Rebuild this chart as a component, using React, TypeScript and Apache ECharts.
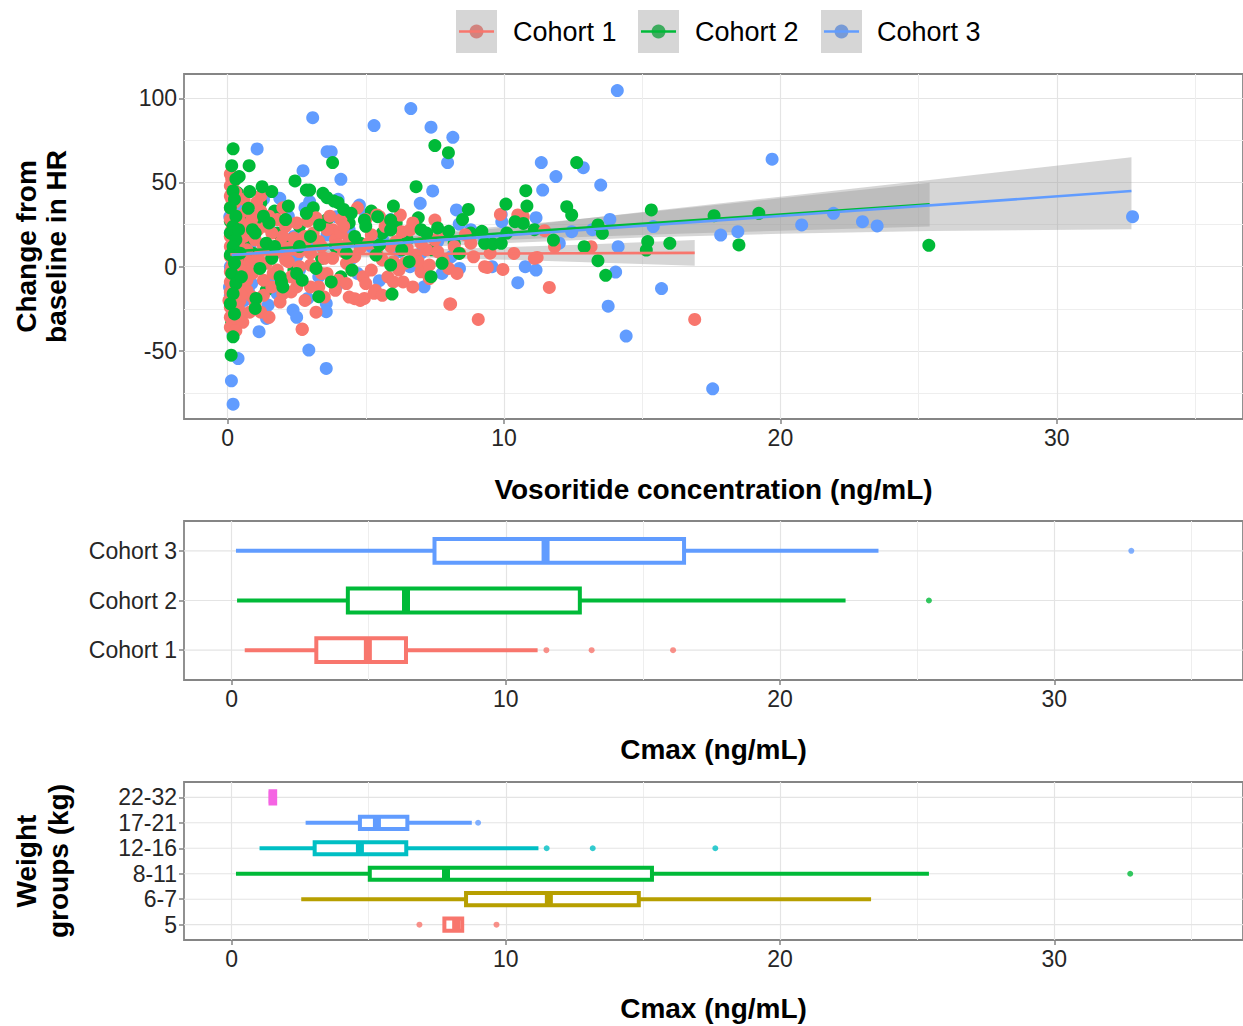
import React, { useEffect, useRef } from "react";
import * as echarts from "echarts";

// ---------- data ----------
const cohorts = ["Cohort 1", "Cohort 2", "Cohort 3"];
const cohortColors = ["#F8766D", "#00BA38", "#619CFF"];

// Change from baseline in HR vs vosoritide concentration: [conc, change]
const cohort1Points: number[][] = [
  [0.1, 55], [0.15, 52], [0.1, 48], [0.2, 45], [0.1, 42], [0.25, 38], [0.1, 35], [0.2, 31], [0.1, 28], [0.3, 25],
  [0.15, 22], [0.1, 18], [0.25, 15], [0.1, 12], [0.2, 9], [0.1, 6], [0.3, 3], [0.15, 0], [0.1, -3], [0.25, -6],
  [0.1, -9], [0.2, -12], [0.1, -15], [0.3, -18], [0.15, -21], [0.1, -24], [0.25, -27], [0.1, -30], [0.2, -33], [0.1, -36],
  [0.35, -31], [0.4, -25], [0.45, -20], [0.4, -10], [0.35, 5], [0.4, 14], [0.35, 20], [0.4, 30], [0.3, 44], [0.5, -29],
  [0.55, -33], [0.6, 18], [0.7, 10], [0.8, 3], [0.9, -4], [0.7, -14], [0.85, 26], [1.0, 16], [1.2, 42], [1.2, 33],
  [1.1, 22], [1.3, 12], [1.4, 2], [1.0, -22], [1.2, -27], [1.3, -8], [1.5, 30], [1.6, 20], [1.7, 8], [1.8, -2],
  [1.65, -4], [1.9, 14], [2.0, 35], [2.1, 24], [2.0, -16], [1.9, -21], [2.2, 3], [2.4, 17], [2.5, -12], [2.7, -37],
  [2.6, 9], [2.8, 18], [2.85, 16], [3.0, 1], [3.2, -27], [3.1, 20], [3.3, -12], [3.4, 12], [3.5, 5], [3.6, -4],
  [3.8, 22], [3.9, 16], [4.0, -8], [4.2, 9], [4.3, 2], [4.4, -18], [4.5, -2], [4.6, -19], [4.7, 35], [4.8, -20],
  [4.9, -6], [4.95, -18.8], [5.0, 28], [5.1, 14], [5.3, -15.8], [5.35, -14], [5.4, 30.7], [5.5, 29.7], [5.6, 4], [5.8, -6],
  [5.9, 12], [6.0, -9], [6.25, 30.7], [6.3, 20.8], [6.35, -9], [6.4, 2], [6.6, 21.8], [6.8, 7], [7.0, -3], [7.2, 10],
  [7.5, 27.7], [7.5, 16], [7.8, 4], [8.0, -1], [8.04, -22.2], [8.2, 12], [8.4, 8], [8.6, 19], [8.9, 5.9], [9.07, -31.3],
  [9.3, 0], [9.4, -0.4], [9.87, 31], [9.96, -1.6], [10.36, 7.9], [10.5, 30.7], [10.7, 29.7], [11.1, 5], [11.2, 5.5], [11.47, 21.4],
  [11.64, -12.3], [11.83, 11.9], [13.15, 11.9], [16.9, -31.3], [6.7, -12], [7.3, -7], [5.2, -2], [3.0, -12], [2.3, -15], [1.5, -30],
  [0.8, -27], [3.7, 30], [2.9, 27], [4.1, 20], [6.1, 15], [6.9, 3], [8.07, -22.2], [2.7, -37.2],
  [0.6, 40], [0.7, 33], [0.9, 29], [1.1, 6], [1.3, -17], [1.5, 10], [1.6, -12], [1.8, 28], [2.0, 18], [2.2, 11],
  [2.3, -6], [2.5, 26], [2.6, 0], [2.8, -20], [3.0, 8], [3.2, 29], [3.3, 15], [3.5, -18], [3.6, 22], [3.8, 5],
  [3.9, -14], [4.0, 13], [4.1, 28], [4.3, -10], [4.4, 16], [4.6, 6], [4.8, 11], [5.0, -10], [5.2, 19], [5.4, 8],
  [5.6, -17], [5.7, 24], [6.0, 3], [6.2, -2], [6.5, 11], [6.7, 26], [7.0, 14], [7.3, 1], [7.6, 9], [7.9, 20],
  [8.3, -4], [8.8, 14], [9.5, 8], [0.5, 10], [0.6, 0], [0.7, -8], [0.5, -17], [0.6, 25], [0.9, -18], [1.05, 38],
  [0.2, 50], [0.05, -20], [0.3, -38], [0.15, 40], [0.35, 12], [0.45, -2], [1.4, 24], [2.1, 4], [3.4, -4], [4.2, 24],
];

// Cohort 2: spread-out points, and the points packed inside the dense low-concentration cluster
const cohort2Points: number[][] = [
  [0.2, 70], [0.15, 60], [0.3, 52], [0.2, 45], [0.25, 40], [0.1, 35], [0.3, 30], [0.2, 24], [0.1, 20], [0.3, 16],
  [0.2, 12], [0.1, 7], [0.25, 2], [0.15, -4], [0.3, -10], [0.2, -16], [0.1, -22], [0.25, -28], [0.2, -41.6], [0.13, -52.5],
  [0.4, 22], [0.45, 8], [0.5, -6], [0.78, 60], [0.42, 53.5], [0.8, 44.6], [1.25, 47.5], [1.6, 44.6], [0.75, 34.7], [0.9, 22],
  [1.0, 20], [1.17, -1], [1.03, -18.8], [1.0, -24.8], [1.3, 30], [1.5, 26], [1.4, 14], [1.6, 5], [1.9, -6], [1.95, -9],
  [2.1, 28], [2.2, 36], [2.44, 50.9], [2.5, -4], [2.6, 12], [2.85, 45.5], [2.97, 45.5], [2.85, 31.7], [3.2, -1], [3.3, -17.8],
  [3.33, 24.8], [3.45, 43.6], [3.6, 41], [3.75, -9], [3.8, 61.8], [3.85, 39], [4.0, 38], [4.2, 34], [4.47, 31.7], [4.3, 8],
  [4.6, 18], [4.95, 27.7], [5.0, 24], [5.37, 6.9], [5.43, 29.7], [5.5, 13], [5.9, 27.7], [5.9, 21.8], [5.9, 1], [5.95, -16.2],
  [6.0, 36], [6.57, 3], [6.82, 47.5], [7.0, 22], [7.2, 20], [7.36, -5.9], [7.5, 71.9], [7.6, 23], [7.76, 2], [7.99, 67.7],
  [8.0, 21], [8.38, 7.9], [8.71, 34], [9.3, 13.9], [9.6, 13.5], [9.9, 13.9], [10.07, 37.2], [10.4, 26.7], [10.7, 25.7], [10.79, 45.1],
  [10.83, 36], [11.79, 15.8], [12.27, 35.6], [12.45, 30.7], [12.63, 61.8], [12.9, 11.9], [13.4, 24.8], [13.56, 19.8], [13.4, 3.6], [13.68, -5.1],
  [15.33, 33.7], [15.2, 14.9], [15.15, 9.9], [16.0, 13.9], [17.6, 30.3], [18.5, 12.9], [19.22, 31.7], [25.37, 12.7], [2.0, -12], [2.7, -8],
  [4.5, -2], [1.7, 12], [3.0, 18], [6.3, 10], [8.5, 28],
];
const cohort2ClusterPoints: number[][] = [
  [0.5, 28], [0.6, 14], [0.7, 2], [0.6, -12], [0.9, 8], [1.1, 26], [1.2, 38], [1.4, -14], [1.7, 33], [1.8, 20],
  [2.3, 16], [2.4, -2], [2.6, 24], [3.1, 35], [3.4, 5], [3.6, 28], [3.9, 12], [4.1, -6], [4.4, 26], [4.8, 14],
  [5.2, 33], [5.6, 20], [6.1, 26], [6.5, 16], [6.9, 29], [7.4, 10], [8.2, 14], [8.8, 20], [0.1, 27], [0.35, 44],
  [0.15, -33], [0.4, -20], [9.2, 21], [10.1, 20], [11.1, 22],
];

const cohort3Points: number[][] = [
  [0.08, 29.7], [0.1, 20], [0.2, 10], [0.1, 0], [0.07, -12], [0.1, -17], [0.3, -5], [0.38, -54.5], [0.14, -67.7], [0.2, -81.6],
  [0.3, 15], [0.25, -25], [1.07, 69.9], [3.08, 88.5], [3.6, 68.3], [3.75, 68.3], [2.73, 57], [4.1, 51.9], [2.97, 38.6], [1.89, 40.6],
  [3.93, 29.7], [4.77, 36.6], [5.0, 30.7], [5.3, 83.8], [6.63, 93.9], [7.36, 82.8], [8.15, 76.8], [7.96, 61.8], [7.42, 45], [6.97, 37.6],
  [8.28, 33.7], [8.38, 25.3], [9.92, 26.7], [9.9, 31], [11.16, 29.1], [11.35, 61.8], [11.88, 53.5], [11.4, 45.5], [13.5, 48.5], [12.87, 58.8],
  [14.1, 104.6], [19.7, 63.8], [12.45, 20.8], [13.83, 28.1], [14.13, 11.9], [15.4, 23.8], [17.84, 18.8], [18.46, 20.8], [20.77, 24.8], [21.92, 31.7],
  [22.97, 26.7], [23.5, 24.2], [32.74, 29.7], [0.87, -9.9], [0.75, -13.9], [1.47, -22.8], [1.41, -30.7], [1.14, -38.6], [2.37, -25.7], [2.9, -18.8],
  [3.57, -21.8], [3.57, -26.7], [2.94, -49.5], [3.57, -60.4], [3.93, -11.9], [5.49, -8.3], [7.11, -11.9], [7.76, -4], [8.39, -1], [9.57, 0],
  [10.77, 0], [11.16, -2], [10.5, -9.5], [14.04, -3.2], [13.77, -23.4], [14.42, -41.2], [15.7, -13], [17.55, -72.5], [1.0, 30], [1.5, 25],
  [2.4, 18], [2.0, 8], [3.0, 12], [3.6, 19], [4.4, 22], [5.6, 17], [6.2, 9], [6.6, 0], [1.2, 2], [2.6, -2], [4.5, 5],
  [0.5, 35], [0.6, -20], [0.8, 12], [1.3, 40], [1.7, -8], [2.2, 30], [2.5, 6], [2.8, 35], [3.3, -6], [4.0, 40],
  [4.7, -4], [5.2, 12], [5.9, 28], [6.4, 20], [7.0, 8], [7.6, 15], [8.1, 6], [8.8, 22], [9.3, 16], [0.2, -40],
  [0.3, -30], [1.8, -16], [2.5, -30], [12.0, 14], [13.2, 22],
];

// Linear fits (end points) and 95% bands [conc, lower, upper]
const fit1 = [[0.1, 7.3], [16.9, 8.2]];
const fit2 = [[0.15, 9.0], [25.4, 37.0]];
const fit3 = [[0.15, 7.0], [32.7, 44.9]];
const band1 = [[0.1, 4.5, 10.1], [2, 5.2, 9.6], [4.5, 5.6, 9.6], [7, 5.4, 10.1], [10, 4.2, 11.6], [13, 2.7, 13.2], [16.9, 0.6, 15.8]];
const band2 = [[0.15, 5.9, 12.4], [2, 8.6, 13.8], [5, 12.1, 16.9], [8, 14.5, 21.0], [12, 17.2, 27.2], [16, 19.4, 33.8], [20, 21.4, 40.6], [25.4, 23.8, 49.9]];
const band3 = [[0.15, 3.7, 10.6], [3, 7.7, 13.3], [6, 11.0, 17.0], [10, 14.0, 23.2], [15, 17.3, 32.5], [20, 19.6, 41.6], [25.4, 21.2, 51.5], [32.7, 22.2, 65]];

// Cmax by cohort: [whisker low, Q1, median, Q3, whisker high]
const cohortCmaxStats = [
  [0.48, 3.09, 4.97, 6.36, 11.16],
  [0.2, 4.24, 6.36, 12.7, 22.39],
  [0.16, 7.4, 11.45, 16.5, 23.59],
];
const cohortCmaxOutliers = [[11.48, 13.13, 16.1], [25.43], [32.81]];

// Cmax by weight group
const weightGroups = ["5", "6-7", "8-11", "12-16", "17-21", "22-32"];
const weightColors = ["#F8766D", "#B79F00", "#00BA38", "#00BFC4", "#619CFF", "#F564E3"];
const weightCmaxStats = [
  [7.76, 7.76, 8.19, 8.41, 8.41],
  [2.54, 8.55, 11.57, 14.85, 23.32],
  [0.16, 5.04, 7.82, 15.33, 25.43],
  [1.02, 3.03, 4.68, 6.37, 11.19],
  [2.7, 4.68, 5.3, 6.41, 8.76],
  [1.42, 1.42, 1.5, 1.59, 1.59],
];
const weightCmaxOutliers = [[6.85, 9.66], [], [32.77], [11.49, 13.17, 17.64], [8.99], []];

const xTicks = [0, 10, 20, 30];
const hrTicks = [-50, 0, 50, 100];

// ---------- styling ----------
const FONT = "'Liberation Sans', Arial, Helvetica, sans-serif";
const GRID_MAJOR = "#e4e4e4";
const GRID_MINOR = "#eeeeee";
const BORDER = "#858585";
const TEXT = "#262626";
const BAND_FILL = "rgba(153,153,153,0.4)";

const labelStyle = { fontSize: 23, color: TEXT, fontFamily: FONT };

const xAxisFor = (gridIndex: number, min: number, max: number) => ({
  type: "value",
  gridIndex,
  min,
  max,
  axisLine: { show: false, onZero: false },
  axisTick: { show: true, length: 5, lineStyle: { color: BORDER, width: 1.5 }, customValues: xTicks },
  axisLabel: { ...labelStyle, customValues: xTicks, margin: 7 },
  splitLine: { show: true, lineStyle: { color: GRID_MAJOR, width: 1.2 } },
  minorTick: { show: false, splitNumber: 2 },
  minorSplitLine: { show: true, lineStyle: { color: GRID_MINOR, width: 1 } },
});

const categoryYAxis = (gridIndex: number, names: string[]) => {
  const vals = names.map((_, i) => i + 1);
  return {
    type: "value",
    gridIndex,
    min: 0.4,
    max: names.length + 0.6,
    axisLine: { show: false, onZero: false },
    axisTick: { show: true, length: 5, lineStyle: { color: BORDER, width: 1.5 }, customValues: vals },
    axisLabel: {
      ...labelStyle,
      customValues: vals,
      margin: 7,
      formatter: (v: number) => names[Math.round(v) - 1] ?? "",
    },
    splitLine: { show: false },
  };
};

const boxRenderer = (colors: string[], frac: number) => (params: any, api: any) => {
  const cat = api.value(0);
  const lo = api.value(1);
  const q1 = api.value(2);
  const med = api.value(3);
  const q3 = api.value(4);
  const hi = api.value(5);
  const [xLo, y] = api.coord([lo, cat]);
  const [xQ1] = api.coord([q1, cat]);
  const [xMed] = api.coord([med, cat]);
  const [xQ3] = api.coord([q3, cat]);
  const [xHi] = api.coord([hi, cat]);
  const yTop = api.coord([q1, cat + frac / 2])[1];
  const yBot = api.coord([q1, cat - frac / 2])[1];
  const color = colors[params.dataIndex];
  const cs = params.coordSys;
  const children: any[] = [
    { type: "line", silent: true, shape: { x1: cs.x, y1: y, x2: cs.x + cs.width, y2: y }, style: { stroke: GRID_MAJOR, lineWidth: 1.2 } },
  ];
  if (xQ1 - xLo > 0.5) children.push({ type: "line", shape: { x1: xLo, y1: y, x2: xQ1, y2: y }, style: { stroke: color, lineWidth: 4 } });
  if (xHi - xQ3 > 0.5) children.push({ type: "line", shape: { x1: xQ3, y1: y, x2: xHi, y2: y }, style: { stroke: color, lineWidth: 4 } });
  children.push({
    type: "rect",
    shape: { x: xQ1, y: yTop, width: xQ3 - xQ1, height: yBot - yTop },
    style: { fill: "#ffffff", stroke: color, lineWidth: 4 },
  });
  children.push({ type: "line", shape: { x1: xMed, y1: yTop, x2: xMed, y2: yBot }, style: { stroke: color, lineWidth: 8 } });
  return { type: "group", children };
};

const bandRenderer = (band: number[][]) => (params: any, api: any) => {
  if (params.dataIndex !== 0) return null;
  const upper = band.map((b) => api.coord([b[0], b[2]]));
  const lower = band.slice().reverse().map((b) => api.coord([b[0], b[1]]));
  return { type: "polygon", silent: true, shape: { points: upper.concat(lower) }, style: { fill: BAND_FILL } };
};

const outlierData = (groups: number[][], colors: string[]) =>
  groups.flatMap((vals, i) => vals.map((v) => ({ value: [v, i + 1], itemStyle: { color: colors[i] } })));

const scatterSeries = (idx: number, pts: number[][]) => ({
  type: "scatter",
  name: cohorts[idx],
  xAxisIndex: 0,
  yAxisIndex: 0,
  data: pts,
  symbolSize: 13,
  itemStyle: { color: cohortColors[idx], opacity: 1 },
});

const bandSeries = (band: number[][]) => ({
  type: "custom",
  xAxisIndex: 0,
  yAxisIndex: 0,
  data: band.map((b) => [b[0], b[1], b[2]]),
  encode: { x: 0, y: [1, 2] },
  renderItem: bandRenderer(band),
  silent: true,
});

const fitSeries = (idx: number, fit: number[][]) => ({
  type: "line",
  xAxisIndex: 0,
  yAxisIndex: 0,
  data: fit,
  showSymbol: false,
  symbol: "none",
  lineStyle: { color: cohortColors[idx], width: 2.6 },
  silent: true,
});

const TOP_X_MIN = -1.576;
const TOP_X_MAX = 36.736;
const BOX_X_MIN = -1.735;
const BOX_X_MAX = 36.883;

const legendKeyX = [456, 638, 821];
const legendTextX = [513, 695, 877];

const legendGraphics = cohorts.flatMap((name, i) => {
  const x = legendKeyX[i];
  const cy = 31.5;
  return [
    { type: "circle", shape: { cx: x + 20.5, cy, r: 7 }, style: { fill: cohortColors[i] } },
    { type: "rect", shape: { x, y: 10, width: 41, height: 43 }, style: { fill: BAND_FILL } },
    { type: "line", shape: { x1: x + 3, y1: cy, x2: x + 38, y2: cy }, style: { stroke: cohortColors[i], lineWidth: 2.6 } },
    {
      type: "text",
      x: legendTextX[i],
      y: cy,
      style: { text: name, fontSize: 27, fontFamily: FONT, fill: "#000", align: "left", verticalAlign: "middle", textAlign: "left", textVerticalAlign: "middle" },
    },
  ];
});

const titleText = (text: string, x: number, y: number, rotate = false) => ({
  type: "text",
  x,
  y,
  rotation: rotate ? Math.PI / 2 : 0,
  style: {
    text,
    fontSize: 28,
    fontWeight: "bold",
    fontFamily: FONT,
    fill: "#000",
    align: "center",
    verticalAlign: "middle",
    textAlign: "center",
    textVerticalAlign: "middle",
  },
});

export default function App() {
  const ref = useRef<HTMLDivElement>(null);

  useEffect(() => {
    if (!ref.current) return;
    const chart = echarts.init(ref.current, undefined, { renderer: "svg" });
    const option: any = {
      animation: false,
      backgroundColor: "#ffffff",
      grid: [
        { left: 184, top: 74, width: 1062, height: 345, show: true, borderColor: BORDER, borderWidth: 1.8, backgroundColor: "transparent" },
        { left: 184, top: 521, width: 1062, height: 159, show: true, borderColor: BORDER, borderWidth: 1.8, backgroundColor: "transparent" },
        { left: 184, top: 782, width: 1062, height: 158, show: true, borderColor: BORDER, borderWidth: 1.8, backgroundColor: "transparent" },
      ],
      xAxis: [xAxisFor(0, TOP_X_MIN, TOP_X_MAX), xAxisFor(1, BOX_X_MIN, BOX_X_MAX), xAxisFor(2, BOX_X_MIN, BOX_X_MAX)],
      yAxis: [
        {
          type: "value",
          gridIndex: 0,
          min: -90.4,
          max: 114.4,
          axisLine: { show: false, onZero: false },
          axisTick: { show: true, length: 5, lineStyle: { color: BORDER, width: 1.5 }, customValues: hrTicks },
          axisLabel: { ...labelStyle, customValues: hrTicks, margin: 7 },
          splitLine: { show: true, lineStyle: { color: GRID_MAJOR, width: 1.2 } },
          minorTick: { show: false, splitNumber: 2 },
          minorSplitLine: { show: true, lineStyle: { color: GRID_MINOR, width: 1 } },
        },
        categoryYAxis(1, cohorts),
        categoryYAxis(2, weightGroups),
      ],
      series: [
        scatterSeries(2, cohort3Points),
        scatterSeries(1, cohort2ClusterPoints),
        scatterSeries(0, cohort1Points),
        scatterSeries(1, cohort2Points),
        bandSeries(band1),
        fitSeries(0, fit1),
        bandSeries(band2),
        fitSeries(1, fit2),
        bandSeries(band3),
        fitSeries(2, fit3),
        {
          type: "custom",
          xAxisIndex: 1,
          yAxisIndex: 1,
          data: cohortCmaxStats.map((s, i) => [i + 1, ...s]),
          encode: { x: [1, 2, 3, 4, 5], y: 0 },
          renderItem: boxRenderer(cohortColors, 0.48),
        },
        {
          type: "scatter",
          xAxisIndex: 1,
          yAxisIndex: 1,
          symbolSize: 6,
          data: outlierData(cohortCmaxOutliers, cohortColors),
        },
        {
          type: "custom",
          xAxisIndex: 2,
          yAxisIndex: 2,
          data: weightCmaxStats.map((s, i) => [i + 1, ...s]),
          encode: { x: [1, 2, 3, 4, 5], y: 0 },
          renderItem: boxRenderer(weightColors, 0.48),
        },
        {
          type: "scatter",
          xAxisIndex: 2,
          yAxisIndex: 2,
          symbolSize: 6,
          data: outlierData(weightCmaxOutliers, weightColors),
        },
      ],
      graphic: [
        ...legendGraphics,
        titleText("Vosoritide concentration (ng/mL)", 713.5, 489),
        titleText("Cmax (ng/mL)", 713.5, 749),
        titleText("Cmax (ng/mL)", 713.5, 1008),
        titleText("Change from", 26, 246.5, true),
        titleText("baseline in HR", 56, 246.5, true),
        titleText("Weight", 26, 861, true),
        titleText("groups (kg)", 58, 861, true),
      ],
    };
    chart.setOption(option);
    return () => chart.dispose();
  }, []);

  return (
    <div
      ref={ref}
      style={{ position: "absolute", left: 0, top: 0, width: 1243, height: 1026, overflow: "hidden", background: "#fff" }}
    />
  );
}
